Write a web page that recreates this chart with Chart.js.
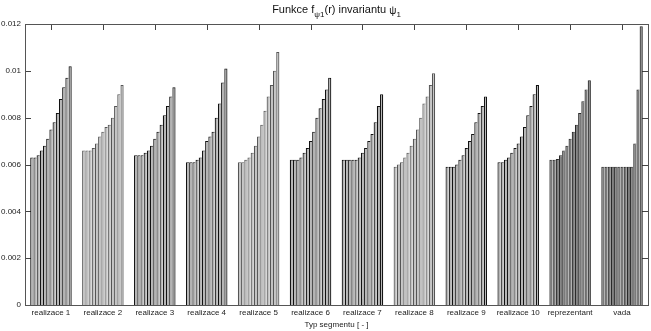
<!DOCTYPE html>
<html>
<head>
<meta charset="utf-8">
<script src="https://cdn.jsdelivr.net/npm/chart.js@4.4.1/dist/chart.umd.min.js"></script>
<style>
  html, body { margin: 0; padding: 0; background: #fff; }
  #wrap { width: 651px; height: 331px; position: relative; }
  canvas { display: block; }
</style>
</head>
<body>
<div id="wrap"><canvas id="chart" width="651" height="331" style="width:651px;height:331px"></canvas></div>
<script>
// Segment types along the x axis
const categories = [
  'realizace 1', 'realizace 2', 'realizace 3', 'realizace 4', 'realizace 5',
  'realizace 6', 'realizace 7', 'realizace 8', 'realizace 9', 'realizace 10',
  'reprezentant', 'vada'
];

// f_psi1(r) for r = 1..13 in each segment type
const realizace1   = [0.0063, 0.0063, 0.0064, 0.0066, 0.0068, 0.0071, 0.0075, 0.0078, 0.0082, 0.0088, 0.0093, 0.0097, 0.0102];
const realizace2   = [0.0066, 0.0066, 0.0066, 0.0067, 0.0069, 0.0072, 0.0074, 0.0076, 0.0077, 0.0080, 0.0085, 0.0090, 0.0094];
const realizace3   = [0.0064, 0.0064, 0.0064, 0.0065, 0.0066, 0.0068, 0.0071, 0.0074, 0.0077, 0.0081, 0.0085, 0.0089, 0.0093];
const realizace4   = [0.0061, 0.0061, 0.0061, 0.0062, 0.0063, 0.0066, 0.0070, 0.0072, 0.0074, 0.0080, 0.0086, 0.0095, 0.0101];
const realizace5   = [0.0061, 0.0061, 0.0062, 0.0063, 0.0065, 0.0068, 0.0072, 0.0077, 0.0083, 0.0089, 0.0094, 0.0100, 0.0108];
const realizace6   = [0.0062, 0.0062, 0.0062, 0.0063, 0.0065, 0.0067, 0.0070, 0.0074, 0.0080, 0.0084, 0.0088, 0.0092, 0.0097];
const realizace7   = [0.0062, 0.0062, 0.0062, 0.0062, 0.0062, 0.0063, 0.0065, 0.0067, 0.0070, 0.0073, 0.0078, 0.0085, 0.0090];
const realizace8   = [0.0059, 0.0060, 0.0061, 0.0063, 0.0065, 0.0068, 0.0071, 0.0075, 0.0080, 0.0086, 0.0089, 0.0094, 0.0099];
const realizace9   = [0.0059, 0.0059, 0.0059, 0.0060, 0.0062, 0.0064, 0.0067, 0.0070, 0.0073, 0.0078, 0.0082, 0.0085, 0.0089];
const realizace10  = [0.0061, 0.0061, 0.0062, 0.0063, 0.0065, 0.0067, 0.0069, 0.0072, 0.0076, 0.0081, 0.0085, 0.0090, 0.0094];
const reprezentant = [0.0062, 0.0062, 0.00623, 0.0064, 0.0066, 0.0068, 0.0071, 0.0074, 0.0077, 0.0082, 0.0087, 0.0092, 0.0096];
const vada         = [0.0059, 0.0059, 0.0059, 0.0059, 0.0059, 0.0059, 0.0059, 0.0059, 0.0059, 0.0059, 0.0069, 0.0092, 0.0119];

const yTickValues = [0, 0.002, 0.004, 0.006, 0.008, 0.01, 0.012];

const groups = [realizace1, realizace2, realizace3, realizace4, realizace5, realizace6,
                realizace7, realizace8, realizace9, realizace10, reprezentant, vada];

// grey shades per segment type
const fillShade = ['#b4b4b4', '#c2c2c2', '#b4b4b4', '#b4b4b4', '#c2c2c2', '#b4b4b4',
                   '#b4b4b4', '#c2c2c2', '#b4b4b4', '#b4b4b4', '#7a7a7a', '#7a7a7a'];
const edgeShade = ['#111111', '#555555', '#111111', '#111111', '#555555', '#111111',
                   '#111111', '#555555', '#111111', '#111111', '#2a2a2a', '#2a2a2a'];

const nBars = groups[0].length;
const datasets = [];
for (let i = 0; i < nBars; i++) {
  datasets.push({
    label: 'r = ' + (i + 1),
    data: groups.map(g => g[i]),
    backgroundColor: c => fillShade[c.dataIndex],
    borderColor: c => edgeShade[c.dataIndex],
    borderWidth: c => ({ top: 1, left: 1.2, right: c.datasetIndex === nBars - 1 ? 1.2 : 0, bottom: 0 }),
    borderSkipped: 'start',
    categoryPercentage: 0.8,
    barPercentage: 1.0
  });
}

const FONT = "'Liberation Sans', Arial, Helvetica, sans-serif";
const TICK_LEN = 6;

// axes box with inward tick marks
const boxAndTicks = {
  id: 'boxAndTicks',
  beforeDatasetsDraw(chart) {
    const { ctx, chartArea: a, scales: { x, y } } = chart;
    ctx.save();
    ctx.strokeStyle = '#444';
    ctx.lineWidth = 1;
    ctx.beginPath();
    y.ticks.forEach(t => {
      const py = Math.round(y.getPixelForValue(t.value)) + 0.5;
      ctx.moveTo(a.left, py); ctx.lineTo(a.left + TICK_LEN, py);
      ctx.moveTo(a.right, py); ctx.lineTo(a.right - TICK_LEN, py);
    });
    categories.forEach((_, i) => {
      const px = Math.round(x.getPixelForValue(i)) + 0.5;
      ctx.moveTo(px, a.top); ctx.lineTo(px, a.top + TICK_LEN);
      ctx.moveTo(px, a.bottom); ctx.lineTo(px, a.bottom - TICK_LEN);
    });
    ctx.stroke();
    ctx.restore();
  },
  afterDatasetsDraw(chart) {
    const { ctx, chartArea: a } = chart;
    ctx.save();
    ctx.strokeStyle = '#555';
    ctx.lineWidth = 1;
    ctx.strokeRect(Math.round(a.left) + 0.5, Math.round(a.top) + 0.5,
                   Math.round(a.right - a.left), Math.round(a.bottom - a.top));
    ctx.restore();
  }
};

// title with subscripts: Funkce f_{psi1}(r) invariantu psi_1
const subTitle = {
  id: 'subTitle',
  afterDraw(chart) {
    const { ctx, chartArea: a } = chart;
    const parts = [
      { t: 'Funkce f', size: 11, dy: 0 },
      { t: '\u03C81', size: 8, dy: 4 },
      { t: '(r) invariantu ', size: 11, dy: 0 },
      { t: '\u03C8', size: 10, dy: 1 },
      { t: '1', size: 8, dy: 4 }
    ];
    ctx.save();
    ctx.fillStyle = '#111';
    ctx.textBaseline = 'alphabetic';
    ctx.textAlign = 'left';
    let total = 0;
    parts.forEach(p => { ctx.font = p.size + 'px ' + FONT; p.w = ctx.measureText(p.t).width; total += p.w; });
    let cx = (a.left + a.right) / 2 - total / 2;
    const base = 13;
    parts.forEach(p => {
      ctx.font = p.size + 'px ' + FONT;
      ctx.fillText(p.t, cx, base + p.dy);
      cx += p.w;
    });
    ctx.restore();
  }
};

new Chart(document.getElementById('chart'), {
  type: 'bar',
  data: { labels: categories, datasets },
  options: {
    responsive: false,
    animation: false,
    events: [],
    layout: { padding: { top: 24, right: 3, left: 0, bottom: 0 } },
    plugins: { legend: { display: false }, tooltip: { enabled: false }, title: { display: false } },
    scales: {
      x: {
        type: 'category',
        offset: true,
        grid: { display: false, drawTicks: false },
        border: { display: false },
        ticks: { color: '#222', font: { family: FONT, size: 8 }, padding: 3, maxRotation: 0, autoSkip: false },
        title: { display: true, text: 'Typ segmentu [ - ]', color: '#222',
                 font: { family: FONT, size: 8 }, padding: { top: 0, bottom: 1 } },
        afterFit(s) { s.height = 26; }
      },
      y: {
        min: 0,
        max: 0.012,
        grid: { display: false, drawTicks: false },
        border: { display: false },
        afterBuildTicks(s) { s.ticks = yTickValues.map(v => ({ value: v })); },
        ticks: { color: '#222', font: { family: FONT, size: 8 }, padding: 4,
                 callback: v => String(+Number(v).toFixed(4)) },
        afterFit(s) { s.width = 25; }
      }
    }
  },
  plugins: [boxAndTicks, subTitle]
});
</script>
</body>
</html>
